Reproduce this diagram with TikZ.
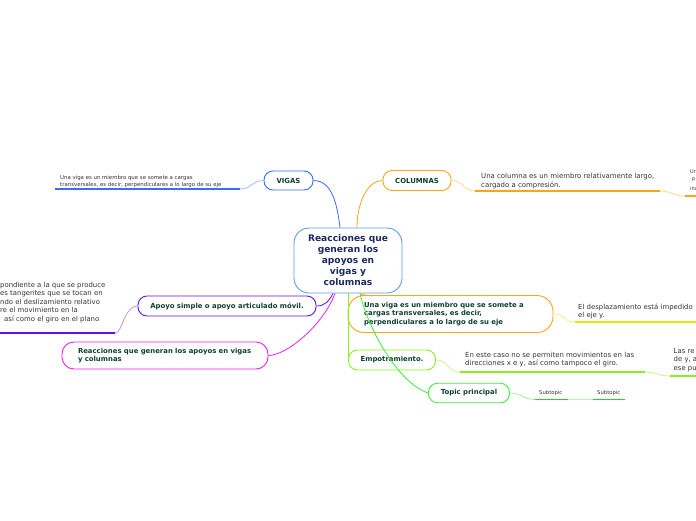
\documentclass[tikz,border=0pt]{standalone}
\usepackage{fontspec}
\setmainfont{DejaVu Sans}
\definecolor{navy}{HTML}{1B2A5E}
\definecolor{tdark}{HTML}{0D4030}
\definecolor{tgray}{HTML}{333333}
\definecolor{cblue}{HTML}{5AA0DC}
\definecolor{vblue}{HTML}{3B6BFF}
\definecolor{corange}{HTML}{FFA31A}
\definecolor{cpurple}{HTML}{6010FF}
\definecolor{cmag}{HTML}{F020F0}
\definecolor{cyellow}{HTML}{E6E600}
\definecolor{clime}{HTML}{8CF020}
\definecolor{cgreen}{HTML}{3CEE3C}
\definecolor{sgreen}{HTML}{22D822}
\tikzset{
  topic/.style={draw, rounded corners=9pt, line width=0.9pt, text=tdark,
    font=\bfseries\fontsize{6.9}{8.5}\selectfont, inner sep=0pt, align=center},
  bigtopic/.style={topic, align=left, inner xsep=16pt},
  body/.style={anchor=north west, inner sep=0pt, align=left, text=tgray},
  link/.style={line width=0.8pt},
  bar/.style={line width=2pt},
  thinbar/.style={line width=1.6pt}
}
\begin{document}
\begin{tikzpicture}[x=1pt,y=-1pt]
\useasboundingbox (0,0) rectangle (696,520);
\clip (0,0) rectangle (696,520);

% central
\node[draw=cblue, rounded corners=15pt, line width=0.9pt, minimum width=108pt, minimum height=65pt,
  text=navy, font=\bfseries\fontsize{9.1}{11}\selectfont, align=center, inner sep=0pt] (c) at (348,260.5)
  {Reacciones que\\generan los\\apoyos en\\vigas y\\columnas};

% ---------- VIGAS
\node[topic, draw=vblue, minimum width=49pt, minimum height=19pt] (vig) at (288.5,180.5) {VIGAS};
\coordinate (v1) at (240,189);
\coordinate (v0) at (55,189);
\draw[link, vblue] (vig.east) .. controls +(18,0) and +(-3,-25) .. ([xshift=-8pt]c.north);
\draw[link, vblue!45] (vig.west) .. controls +(-12,0) and +(12,0) .. (v1);
\draw[bar, vblue] (v1) -- (v0);
\node[body, font=\fontsize{5.4}{7.3}\selectfont] (vigt) at (60,174.8)
  {Una viga es un miembro que se somete a cargas\\transversales, es decir, perpendiculares a lo largo de su eje};

% ---------- COLUMNAS
\node[topic, draw=corange, minimum width=68pt, minimum height=20pt] (col) at (417,180.5) {COLUMNAS};
\coordinate (c1) at (475,191);
\coordinate (c2) at (660,191);
\coordinate (c3) at (685,196);
\coordinate (c4) at (700,196);
\draw[link, corange] ([xshift=9pt]c.north) .. controls +(0,-25) and +(-15,0) .. (col.west);
\draw[link, corange!45] (col.east) .. controls +(12,0) and +(-12,0) .. (c1);
\draw[bar, corange] (c1) -- (c2);
\draw[link, corange!45] (c2) .. controls +(12,0) and +(-12,0) .. (c3);
\draw[bar, corange] (c3) -- (c4);
\node[body, font=\fontsize{6.95}{8.2}\selectfont] (colt) at (481,173.5)
  {Una columna es un miembro relativamente largo,\\cargado a compresión.};
\node[body, font=\fontsize{5}{7}\selectfont] (colu) at (690,169.5) {Ur\\\hspace*{2pt}p};
\node[body, font=\fontsize{5}{7}\selectfont] (coli) at (690,186.5) {inc};

% ---------- Apoyo simple
\node[topic, draw=cpurple, minimum width=178pt, minimum height=20pt] (apo) at (227,306) {Apoyo simple o apoyo articulado móvil.};
\coordinate (a1) at (115,333);
\coordinate (a0) at (-5,333);
\draw[link, cpurple] ([xshift=-15pt]c.south) .. controls +(-4,8) and +(8,0) .. (apo.east);
\draw[link, cpurple!45] (apo.west) .. controls +(-14,0) and +(8,0) .. (a1);
\draw[bar, cpurple] (a1) -- (a0);
\node[body, font=\fontsize{6.9}{8.5}\selectfont] (apot) at (0,281.6)
  {pondiente a la que se produce\\es tangentes que se tocan en\\ndo el deslizamiento relativo\\re el movimiento en la\\\hspace*{4pt}así como el giro en el plano};

% ---------- Reacciones (magenta)
\node[bigtopic, draw=cmag, rounded corners=12pt, text width=174pt, minimum height=27pt] (mag) at (165,355.5)
  {Reacciones que generan los apoyos en vigas\\y columnas};
\draw[link, cmag] ([xshift=-13pt]c.south) .. controls +(-12,32) and +(18,0) .. (mag.east);

% ---------- Una viga (orange, right)
\node[bigtopic, draw=corange, rounded corners=16pt, text width=173pt, minimum height=37pt] (ov) at (450.5,314)
  {Una viga es un miembro que se somete a\\cargas transversales, es decir,\\perpendiculares a lo largo de su eje};
\coordinate (o1) at (575,322);
\coordinate (o2) at (700,322);
\draw[link, corange] ([xshift=12pt]c.south) .. controls +(1,1) and +(-3,0) .. ([xshift=18pt]ov.north west);
\draw[link, cyellow!55] (ov.east) .. controls +(12,0) and +(-12,0) .. (o1);
\draw[bar, cyellow] (o1) -- (o2);
\node[body, font=\fontsize{6.9}{8}\selectfont] (ovt) at (578,303.3)
  {El desplazamiento está impedido\\el eje y.};

% ---------- Empotramiento
\node[topic, draw=clime, minimum width=87pt, minimum height=20pt] (emp) at (392,360) {Empotramiento.};
\coordinate (e1) at (460,372);
\coordinate (e2) at (645,372);
\coordinate (e3) at (670,376);
\coordinate (e4) at (700,376);
\draw[link, clime] (c.south) -- (c.south |- emp.west);
\draw[link, clime!50] (emp.east) .. controls +(12,0) and +(-12,0) .. (e1);
\draw[bar, clime] (e1) -- (e2);
\draw[link, clime!50] (e2) .. controls +(12,0) and +(-12,0) .. (e3);
\draw[bar, clime] (e3) -- (e4);
\node[body, font=\fontsize{6.95}{8.7}\selectfont] (empt) at (465,351.8)
  {En este caso no se permiten movimientos en las\\direcciones x e y, así como tampoco el giro.};
\node[body, font=\fontsize{6.9}{8.7}\selectfont] (empr) at (673.5,347.8)
  {Las re\\de y, a\\ese pu};

% ---------- Topic principal
\node[topic, draw=cgreen, minimum width=81pt, minimum height=19.5pt] (tp) at (469,393) {Topic principal};
\coordinate (t1) at (535,399.5);
\coordinate (t2) at (568,399.5);
\coordinate (t3) at (593,399.5);
\coordinate (t4) at (625,399.5);
\draw[link, cgreen] ([xshift=12pt]c.south) .. controls +(8,35) and +(-30,-10) .. (tp.west);
\draw[link, cgreen!50] (tp.east) .. controls +(12,0) and +(-12,0) .. (t1);
\draw[thinbar, sgreen] (t1) -- (t2);
\draw[link, cgreen!35] (t2) -- (t3);
\draw[thinbar, sgreen] (t3) -- (t4);
\node[body, font=\fontsize{5.3}{6.5}\selectfont] (s1) at (539,390.5) {Subtopic};
\node[body, font=\fontsize{5.3}{6.5}\selectfont] (s2) at (597,390.5) {Subtopic};
\end{tikzpicture}
\end{document}
